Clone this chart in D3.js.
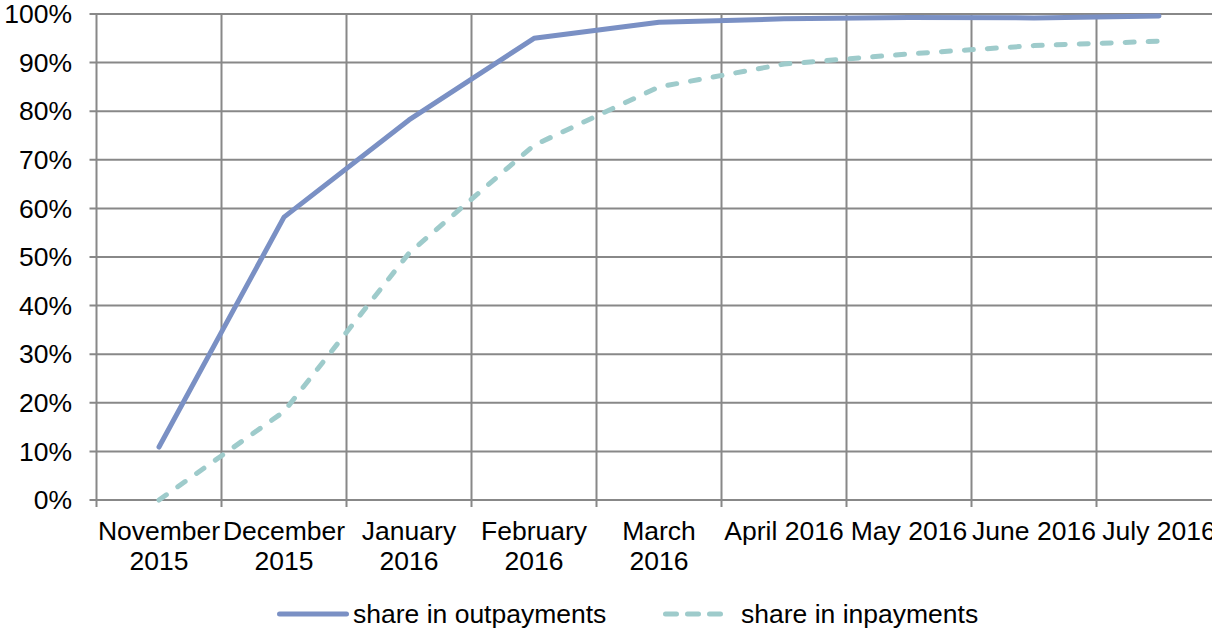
<!DOCTYPE html>
<html><head><meta charset="utf-8">
<script src="https://cdn.jsdelivr.net/npm/d3@7"></script>
<style>body{margin:0;background:#fff}svg{display:block}text{font-family:"Liberation Sans",Arial,sans-serif;fill:#000}</style>
</head><body>
<svg id="c" width="1212" height="630"></svg>
<script>
const categories = ["November 2015","December 2015","January 2016","February 2016","March 2016","April 2016","May 2016","June 2016","July 2016"];
const tickLabels = [["November","2015"],["December","2015"],["January","2016"],["February","2016"],["March","2016"],["April 2016"],["May 2016"],["June 2016"],["July 2016"]];
const outpayments = [0.109, 0.582, 0.782, 0.950, 0.983, 0.990, 0.993, 0.992, 0.996];
const inpayments  = [0.000, 0.182, 0.508, 0.730, 0.850, 0.897, 0.918, 0.935, 0.944];
const yTicks = [0,0.1,0.2,0.3,0.4,0.5,0.6,0.7,0.8,0.9,1.0];
const seriesNames = ["share in outpayments","share in inpayments"];

(function(){
const svg = d3.select("#c");
const pL = 96.5, pR = 1221.5, pT = 14, pB = 500;
const x = d3.scaleBand().domain(categories).range([pL, pR]);
const y = d3.scaleLinear().domain([0,1]).range([pB, pT]);
const grid = "#888";
const fs = 26.5;

svg.append("g").selectAll("line").data(yTicks).join("line")
  .attr("x1", pL-7).attr("x2", pR).attr("y1", d=>y(d)).attr("y2", d=>y(d))
  .attr("stroke", grid).attr("stroke-width", 2);
const bounds = categories.map(c=>x(c)).concat([pR]);
svg.append("g").selectAll("line").data(bounds).join("line")
  .attr("x1", d=>d).attr("x2", d=>d).attr("y1", pT).attr("y2", pB+7)
  .attr("stroke", grid).attr("stroke-width", 2);

svg.append("g").selectAll("text").data(yTicks).join("text")
  .attr("x", 72).attr("y", d=>y(d)).attr("dy","0.35em").attr("text-anchor","end")
  .attr("font-size", fs).text(d=>d3.format(".0%")(d));

const xl = svg.append("g").selectAll("text").data(categories).join("text")
  .attr("text-anchor","middle").attr("font-size", fs);
xl.each(function(c,i){
  const t = d3.select(this);
  tickLabels[i].forEach((s,j)=>{
    t.append("tspan").attr("x", x(c)+x.bandwidth()/2).attr("y", 540 + j*30).text(s);
  });
});

const cx = (d,i)=>x(categories[i])+x.bandwidth()/2;
const line = d3.line().x(cx).y(d=>y(d));
svg.append("path").datum(inpayments).attr("d", line).attr("fill","none")
  .attr("stroke","#9ecbcb").attr("stroke-width",5).attr("stroke-dasharray","9,14")
  .attr("stroke-linecap","round").attr("stroke-linejoin","round");
svg.append("path").datum(outpayments).attr("d", line).attr("fill","none")
  .attr("stroke","#7a90c4").attr("stroke-width",5)
  .attr("stroke-linecap","round").attr("stroke-linejoin","round");

const lg = svg.append("g");
lg.append("line").attr("x1",279.5).attr("x2",346.5).attr("y1",614).attr("y2",614)
  .attr("stroke","#7a90c4").attr("stroke-width",5).attr("stroke-linecap","round");
lg.append("text").attr("x",353).attr("y",614).attr("dy","0.35em").attr("font-size",fs).text(seriesNames[0]);
lg.append("line").attr("x1",665.5).attr("x2",720.5).attr("y1",614).attr("y2",614)
  .attr("stroke","#9ecbcb").attr("stroke-width",5).attr("stroke-dasharray","11,11")
  .attr("stroke-linecap","round");
lg.append("text").attr("x",741).attr("y",614).attr("dy","0.35em").attr("font-size",fs).text(seriesNames[1]);
})();
</script>
</body></html>
